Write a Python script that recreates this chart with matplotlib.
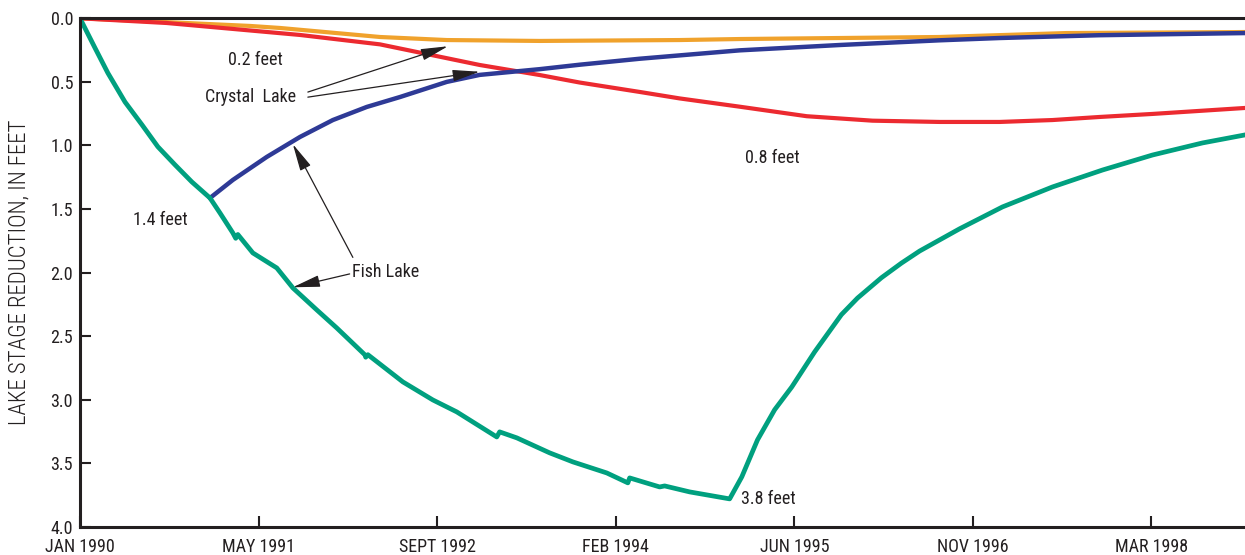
import matplotlib
matplotlib.use('Agg')
import matplotlib.pyplot as plt
from matplotlib import font_manager as fm

# x = days since 1 Jan 1990, y = lake stage reduction in feet
green_days = [0, 42, 78, 126, 174, 218, 266, 313, 364, 392, 428, 436, 442, 484, 551, 596, 663,
              719, 798, 800, 806, 904, 988, 1055, 1167, 1175, 1223, 1315, 1380, 1475, 1534, 1539,
              1623, 1637, 1707, 1819, 1853, 1897, 1945, 1993, 2057, 2132, 2177, 2244, 2300, 2351,
              2463, 2583, 2723, 2863, 3003, 3143, 3262]
green_ft = [0.0, 0.233, 0.430, 0.658, 0.839, 1.01, 1.152, 1.286, 1.413, 1.531, 1.688, 1.73, 1.70,
            1.845, 1.963, 2.120, 2.293, 2.435, 2.647, 2.665, 2.645, 2.859, 3.001, 3.095, 3.292,
            3.252, 3.299, 3.417, 3.488, 3.575, 3.653, 3.614, 3.685, 3.677, 3.724, 3.779, 3.606,
            3.315, 3.078, 2.899, 2.623, 2.330, 2.200, 2.040, 1.925, 1.830, 1.655, 1.483, 1.326,
            1.193, 1.075, 0.980, 0.917]

blue_days = [364, 428, 523, 616, 708, 803, 896, 1027, 1119, 1287, 1399, 1567, 1847, 2127,
             2407, 2575, 2854, 3262]
blue_ft = [1.413, 1.271, 1.09, 0.933, 0.80, 0.697, 0.619, 0.50, 0.445, 0.400, 0.365,
           0.318, 0.252, 0.210, 0.173, 0.155, 0.133, 0.116]

red_days = [0, 243, 616, 840, 1119, 1287, 1399, 1567, 1679, 1847, 2035, 2219, 2407, 2575, 2723,
            2854, 3003, 3262]
red_ft = [0.0, 0.037, 0.131, 0.205, 0.367, 0.446, 0.505, 0.579, 0.630, 0.695, 0.770, 0.805,
          0.815, 0.815, 0.800, 0.776, 0.752, 0.705]

orange_days = [0, 243, 476, 560, 840, 1027, 1287, 1679, 1847, 2407, 2762, 3262]
orange_ft = [0.0, 0.03, 0.06, 0.076, 0.147, 0.171, 0.178, 0.171, 0.163, 0.147, 0.116, 0.108]

tick_days = [0, 500, 1000, 1500, 2000, 2500, 3000]
tick_labels = ['JAN 1990', 'MAY 1991', 'SEPT 1992', 'FEB 1994', 'JUN 1995', 'NOV 1996', 'MAR 1998']

names = {f.name for f in fm.fontManager.ttflist}
cond = 'Roboto'
for cand in ['Roboto Condensed', 'Liberation Sans Narrow', 'DejaVu Sans Condensed']:
    if cand in names:
        cond = cand
        break
txt = '#231f20'

fig = plt.figure(figsize=(12.45, 5.55), dpi=100)
ax = fig.add_axes([80 / 1245, 28 / 555, 1 - 80 / 1245, 508.7 / 555])

ax.plot(orange_days, orange_ft, color='#f0a22c', lw=3.0)
ax.plot(red_days, red_ft, color='#ec2a30', lw=3.0)
ax.plot(blue_days, blue_ft, color='#2e3a96', lw=3.2)
ax.plot(green_days, green_ft, color='#00a07f', lw=3.4)

ax.set_xlim(0, 3262)
ax.set_ylim(4.0, 0.0)
ax.set_yticks([0, 0.5, 1, 1.5, 2, 2.5, 3, 3.5, 4])
ax.set_yticklabels(['%.1f' % v for v in ax.get_yticks()])
ax.set_xticks(tick_days)
ax.set_xticklabels(tick_labels)

for lab in ax.get_xticklabels() + ax.get_yticklabels():
    lab.set_family(cond)
    lab.set_fontsize(13)
    lab.set_color(txt)

ax.tick_params(axis='both', direction='in', length=8, width=1.5, color=txt)
ax.tick_params(axis='x', pad=8)
ax.tick_params(axis='y', pad=5)
ax.spines['right'].set_visible(False)
for s in ['left', 'top', 'bottom']:
    ax.spines[s].set_linewidth(2.2)
    ax.spines[s].set_color(txt)

fig.text(19 / 1245, 1 - 272 / 555, 'LAKE STAGE REDUCTION, IN FEET', rotation=90,
         ha='center', va='center', family=cond, fontsize=16.5, fontweight='light', color=txt)

tkw = dict(family=cond, fontsize=13, color=txt)
ax.text(490, 0.33, '0.2 feet', ha='center', va='center', **tkw)
ax.text(478, 0.62, 'Crystal  Lake', ha='center', va='center', **tkw)
ax.text(1939, 1.10, '0.8 feet', ha='center', va='center', **tkw)
ax.text(224, 1.585, '1.4 feet', ha='center', va='center', **tkw)
ax.text(761, 1.995, 'Fish Lake', ha='left', va='center', **tkw)
ax.text(1850, 3.78, '3.8 feet', ha='left', va='center', **tkw)

ap = dict(arrowstyle='-|>,head_length=1.4,head_width=0.3', lw=0.9, color=txt,
          shrinkA=0, shrinkB=0, mutation_scale=12)
ax.annotate('', xy=(1030, 0.22), xytext=(638, 0.58), arrowprops=ap)
ax.annotate('', xy=(1119, 0.42), xytext=(638, 0.62), arrowprops=ap)
ax.annotate('', xy=(596, 0.99), xytext=(764, 1.88), arrowprops=ap)
ax.annotate('', xy=(596, 2.115), xytext=(755, 2.01), arrowprops=ap)

fig.savefig('out.png', dpi=100)
